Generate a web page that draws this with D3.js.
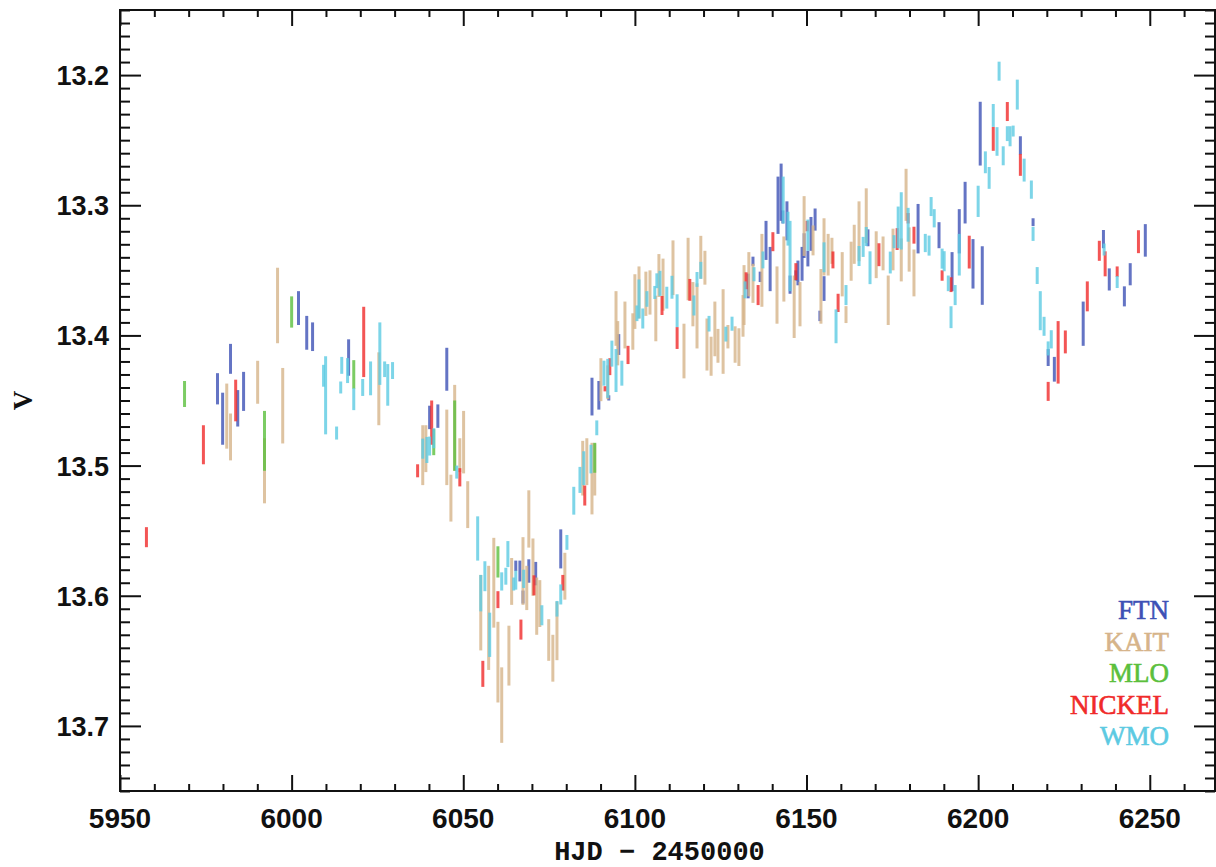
<!DOCTYPE html>
<html>
<head>
<meta charset="utf-8">
<script src="https://cdn.jsdelivr.net/npm/d3@7/dist/d3.min.js"></script>
<style>
  body { margin: 0; background: #fff; }
  svg { display: block; }
</style>
</head>
<body>
<div id="chart"></div>
<script>
// [HJD - 2450000, V, error]
const ftn = [
  [5978.4,13.441,0.012],[5979.9,13.464,0.020],[5982.2,13.418,0.0115],[5984.3,13.456,0.014],
  [5986.0,13.443,0.015],[6002.0,13.379,0.013],[6004.4,13.398,0.013],[6006.1,13.401,0.011],
  [6016.6,13.417,0.014],[6040.2,13.463,0.009],[6042.6,13.462,0.009],[6045.2,13.426,0.0165],
  [6065.3,13.577,0.004],[6066.5,13.581,0.008],[6067.4,13.601,0.005],[6069.1,13.581,0.009],
  [6071.1,13.583,0.009],[6078.4,13.564,0.015],[6087.5,13.447,0.0145],[6089.5,13.446,0.011],
  [6092.4,13.448,0.002],[6095.3,13.407,0.008],[6133.0,13.362,0.0095],[6134.4,13.343,0.0035],
  [6136.5,13.355,0.004],[6138.2,13.327,0.015],[6139.4,13.349,0.017],[6141.7,13.300,0.022],
  [6142.6,13.290,0.022],[6143.1,13.309,0.005],[6144.3,13.312,0.015],[6145.2,13.361,0.007],
  [6146.9,13.354,0.004],[6147.5,13.352,0.0095],[6148.7,13.345,0.013],[6149.3,13.331,0.0095],
  [6150.4,13.341,0.006],[6151.3,13.322,0.013],[6152.5,13.311,0.0085],[6153.9,13.385,0.004],
  [6155.1,13.364,0.0095],[6167.9,13.325,0.0065],[6182.5,13.318,0.019],[6188.6,13.323,0.010],
  [6192.4,13.351,0.015],[6194.5,13.320,0.017],[6196.2,13.298,0.016],[6198.5,13.345,0.019],
  [6200.6,13.245,0.0245],[6201.2,13.354,0.0225],[6212.3,13.254,0.007],[6216.0,13.313,0.003],
  [6220.4,13.417,0.0065],[6222.2,13.426,0.0095],[6230.6,13.391,0.017],[6236.5,13.326,0.007],
  [6238.2,13.357,0.0085],[6242.6,13.370,0.0077],[6244.3,13.353,0.0085],[6248.7,13.327,0.0125]
];
const kait = [
  [5981.1,13.462,0.025],[5982.2,13.478,0.018],[5990.1,13.436,0.0165],[5992.1,13.504,0.025],
  [5995.9,13.377,0.029],[5997.4,13.454,0.029],[6025.4,13.441,0.028],[6038.2,13.492,0.023],
  [6039.1,13.487,0.018],[6045.2,13.486,0.029],[6046.4,13.525,0.018],[6047.5,13.471,0.033],
  [6049.0,13.492,0.013],[6050.1,13.482,0.024],[6051.3,13.530,0.018],[6055.1,13.613,0.029],
  [6057.4,13.617,0.040],[6058.9,13.590,0.0345],[6060.1,13.651,0.031],[6061.2,13.684,0.029],
  [6063.3,13.646,0.023],[6064.1,13.589,0.018],[6067.4,13.581,0.026],[6068.5,13.594,0.017],
  [6069.1,13.541,0.022],[6070.3,13.578,0.022],[6071.4,13.608,0.022],[6072.3,13.606,0.018],
  [6074.9,13.634,0.016],[6076.1,13.648,0.018],[6077.3,13.627,0.0225],[6079.6,13.585,0.018],
  [6084.8,13.502,0.021],[6086.0,13.497,0.018],[6087.5,13.510,0.0275],[6088.3,13.503,0.020],
  [6090.1,13.434,0.0165],[6092.1,13.436,0.013],[6094.5,13.387,0.021],[6095.0,13.406,0.017],
  [6097.1,13.392,0.018],[6099.4,13.397,0.014],[6100.0,13.374,0.021],[6101.2,13.367,0.020],
  [6103.2,13.368,0.017],[6104.4,13.367,0.017],[6106.1,13.387,0.0175],[6107.0,13.354,0.0165],
  [6108.2,13.361,0.020],[6111.1,13.348,0.021],[6114.3,13.412,0.021],[6115.5,13.349,0.024],
  [6116.9,13.376,0.017],[6118.1,13.385,0.025],[6119.2,13.340,0.0165],[6120.4,13.348,0.013],
  [6121.0,13.407,0.020],[6122.2,13.416,0.015],[6123.3,13.395,0.021],[6124.2,13.408,0.013],
  [6125.7,13.397,0.0325],[6127.1,13.401,0.009],[6129.2,13.407,0.014],[6130.3,13.409,0.0145],
  [6131.5,13.385,0.016],[6131.8,13.369,0.023],[6133.2,13.353,0.017],[6134.4,13.360,0.015],
  [6137.0,13.350,0.028],[6141.4,13.369,0.022],[6143.4,13.349,0.025],[6146.4,13.378,0.024],
  [6148.1,13.376,0.017],[6149.3,13.316,0.023],[6151.9,13.327,0.0115],[6154.2,13.370,0.021],
  [6155.1,13.332,0.022],[6156.3,13.338,0.016],[6157.4,13.335,0.010],[6160.4,13.353,0.017],
  [6161.5,13.384,0.0065],[6163.0,13.343,0.015],[6163.9,13.330,0.015],[6165.3,13.320,0.023],
  [6167.4,13.308,0.021],[6170.3,13.338,0.018],[6172.3,13.337,0.013],[6173.8,13.373,0.019],
  [6175.2,13.334,0.016],[6177.6,13.342,0.0165],[6179.0,13.292,0.020],[6179.9,13.334,0.017],
  [6181.3,13.352,0.018]
];
const mlo = [
  [5968.8,13.445,0.010],[5992.1,13.481,0.023],[6000.0,13.382,0.012],[6018.1,13.430,0.011],
  [6041.4,13.482,0.010],[6047.5,13.477,0.027],[6060.1,13.574,0.012],[6088.3,13.494,0.0115]
];
const nickel = [
  [5957.7,13.555,0.0077],[5974.3,13.484,0.015],[5983.7,13.450,0.016],[6021.0,13.405,0.027],
  [6036.7,13.504,0.005],[6040.8,13.467,0.017],[6049.0,13.509,0.007],[6055.7,13.660,0.010],
  [6060.1,13.603,0.0065],[6066.8,13.626,0.0077],[6070.6,13.592,0.0077],[6079.0,13.590,0.006],
  [6085.4,13.523,0.0077],[6091.3,13.441,0.002],[6092.7,13.424,0.0065],[6098.0,13.415,0.007],
  [6107.9,13.377,0.0073],[6112.3,13.402,0.0084],[6116.0,13.365,0.0084],[6132.4,13.358,0.0065],
  [6135.9,13.369,0.0077],[6140.2,13.328,0.0073],[6146.9,13.351,0.0065],[6150.2,13.316,0.004],
  [6157.7,13.342,0.0065],[6159.2,13.375,0.007],[6171.1,13.338,0.0088],[6176.4,13.326,0.0084],
  [6179.6,13.310,0.004],[6181.3,13.323,0.0065],[6189.5,13.354,0.004],[6192.1,13.361,0.0057],
  [6197.4,13.336,0.0126],[6204.4,13.249,0.0092],[6208.5,13.228,0.0073],[6212.3,13.269,0.0084],
  [6220.4,13.443,0.0073],[6223.3,13.413,0.024],[6225.4,13.405,0.0088],[6231.8,13.370,0.0115],
  [6235.3,13.335,0.0077],[6237.0,13.345,0.0096],[6240.5,13.351,0.004],[6246.7,13.328,0.0088]
];
const wmo = [
  [6009.3,13.431,0.0084],[6009.9,13.446,0.030],[6013.1,13.475,0.005],[6014.6,13.423,0.0065],
  [6014.3,13.440,0.0046],[6016.3,13.427,0.0096],[6018.1,13.449,0.0084],[6020.7,13.440,0.0065],
  [6023.0,13.433,0.013],[6025.7,13.414,0.024],[6027.1,13.426,0.006],[6028.0,13.438,0.016],
  [6029.4,13.427,0.0065],[6038.2,13.487,0.0077],[6039.4,13.488,0.010],[6040.2,13.485,0.0073],
  [6041.4,13.479,0.0077],[6048.1,13.505,0.005],[6054.2,13.556,0.017],[6055.1,13.598,0.014],
  [6056.3,13.585,0.0115],[6057.7,13.630,0.017],[6061.2,13.589,0.007],[6062.4,13.585,0.0065],
  [6063.0,13.568,0.010],[6064.7,13.591,0.005],[6065.3,13.588,0.0073],[6067.6,13.587,0.007],
  [6072.9,13.615,0.0077],[6077.3,13.610,0.006],[6078.4,13.599,0.0077],[6080.2,13.559,0.0057],
  [6082.2,13.527,0.0107],[6084.0,13.511,0.010],[6085.1,13.502,0.013],[6087.2,13.495,0.011],
  [6088.9,13.471,0.0057],[6091.0,13.429,0.0096],[6092.1,13.433,0.015],[6093.3,13.414,0.010],
  [6094.5,13.427,0.0165],[6096.2,13.429,0.0096],[6100.6,13.383,0.006],[6101.2,13.372,0.015],
  [6102.3,13.387,0.0077],[6103.5,13.372,0.006],[6105.8,13.367,0.005],[6106.4,13.358,0.0057],
  [6107.3,13.360,0.0096],[6109.3,13.371,0.0084],[6110.8,13.363,0.0088],[6112.3,13.381,0.0126],
  [6117.2,13.377,0.0077],[6118.1,13.357,0.0057],[6119.2,13.350,0.0065],[6121.6,13.391,0.006],
  [6126.5,13.399,0.0057],[6128.3,13.391,0.0054],[6132.1,13.365,0.0065],[6134.7,13.353,0.0054],
  [6137.3,13.342,0.0065],[6143.2,13.296,0.018],[6144.6,13.318,0.013],[6145.2,13.339,0.027],
  [6150.4,13.323,0.012],[6155.1,13.340,0.0115],[6158.6,13.393,0.013],[6161.5,13.369,0.0077],
  [6165.3,13.339,0.0077],[6166.5,13.332,0.0077],[6167.4,13.324,0.0073],[6168.5,13.348,0.0126],
  [6174.4,13.344,0.0084],[6175.5,13.328,0.005],[6176.7,13.317,0.016],[6177.6,13.312,0.022],
  [6179.6,13.315,0.013],[6184.6,13.329,0.007],[6185.7,13.331,0.0077],[6186.3,13.301,0.0073],
  [6187.2,13.310,0.007],[6189.5,13.341,0.0077],[6190.1,13.343,0.0077],[6191.3,13.360,0.006],
  [6192.1,13.386,0.0084],[6193.3,13.369,0.0077],[6194.5,13.338,0.016],[6200.0,13.297,0.012],
  [6202.1,13.267,0.0084],[6203.2,13.279,0.0084],[6204.4,13.231,0.0088],[6205.5,13.251,0.011],
  [6206.1,13.197,0.0073],[6207.3,13.262,0.0073],[6208.5,13.245,0.0057],[6209.3,13.247,0.0077],
  [6210.2,13.243,0.0042],[6211.4,13.215,0.0115],[6213.4,13.273,0.0088],[6215.5,13.288,0.007],
  [6216.0,13.322,0.0054],[6217.2,13.354,0.0065],[6218.1,13.381,0.015],[6219.2,13.393,0.0073],
  [6220.4,13.410,0.0054],[6221.3,13.403,0.007],[6236.7,13.334,0.0046],[6240.5,13.359,0.0046]
];

const instruments = ["FTN", "KAIT", "MLO", "NICKEL", "WMO"];
const colors = ["#3d51b5", "#d6b48a", "#5bbf3d", "#f02a2a", "#5ccae2"];
const seriesData = [ftn, kait, mlo, nickel, wmo];

const xMajor = [5950, 6000, 6050, 6100, 6150, 6200, 6250];
const yMajor = [13.2, 13.3, 13.4, 13.5, 13.6, 13.7];

const width = 1216, height = 867;
const margin = { left: 120, right: 1215, top: 10, bottom: 791 };

const svg = d3.select("#chart").append("svg")
  .attr("width", width)
  .attr("height", height);

const x = d3.scaleLinear().domain([5950, 6269]).range([margin.left, margin.right]);
const y = d3.scaleLinear().domain([13.15, 13.75]).range([margin.top, margin.bottom]);

// error bars
seriesData.forEach(function (data, i) {
  svg.append("g")
    .selectAll("line")
    .data(data)
    .enter()
    .append("line")
    .attr("x1", d => x(d[0]))
    .attr("x2", d => x(d[0]))
    .attr("y1", d => y(d[1] - d[2]))
    .attr("y2", d => y(d[1] + d[2]))
    .attr("stroke", colors[i])
    .attr("stroke-width", 3)
    .attr("stroke-opacity", 0.8);
});

// axes: ticks inward on all four sides
const xMinor = d3.range(5960, 6270, 10).filter(v => v % 50 !== 0);
const yMinor = d3.range(0, 61).map(i => +(13.15 + i * 0.01).toFixed(2))
  .filter(v => Math.abs(v * 10 - Math.round(v * 10)) > 1e-6);

function styleAxis(g) {
  g.select(".domain").remove();
  g.selectAll("line").attr("stroke", "#111").attr("stroke-width", 2);
}

function addAxis(axis, tx, ty) {
  svg.append("g").attr("transform", `translate(${tx},${ty})`).call(axis).call(styleAxis);
}

addAxis(d3.axisTop(x).tickValues(xMajor).tickSize(16).tickFormat(""), 0, margin.bottom);
addAxis(d3.axisTop(x).tickValues(xMinor).tickSize(7).tickFormat(""), 0, margin.bottom);
addAxis(d3.axisBottom(x).tickValues(xMajor).tickSize(16).tickFormat(""), 0, margin.top);
addAxis(d3.axisBottom(x).tickValues(xMinor).tickSize(7).tickFormat(""), 0, margin.top);
addAxis(d3.axisRight(y).tickValues(yMajor).tickSize(21).tickFormat(""), margin.left, 0);
addAxis(d3.axisRight(y).tickValues(yMinor).tickSize(10).tickFormat(""), margin.left, 0);
addAxis(d3.axisLeft(y).tickValues(yMajor).tickSize(21).tickFormat(""), margin.right, 0);
addAxis(d3.axisLeft(y).tickValues(yMinor).tickSize(10).tickFormat(""), margin.right, 0);

svg.append("rect")
  .attr("x", margin.left).attr("y", margin.top)
  .attr("width", margin.right - margin.left).attr("height", margin.bottom - margin.top)
  .attr("fill", "none").attr("stroke", "#111").attr("stroke-width", 2);

// tick labels
svg.append("g").selectAll("text")
  .data(xMajor).enter().append("text")
  .attr("x", d => x(d)).attr("y", 828)
  .attr("text-anchor", "middle")
  .attr("font-family", "Liberation Sans, Arial, sans-serif")
  .attr("font-weight", "bold").attr("font-size", 28)
  .attr("fill", "#111")
  .text(d => d);

svg.append("g").selectAll("text")
  .data(yMajor).enter().append("text")
  .attr("x", 109).attr("y", d => y(d) + 10)
  .attr("text-anchor", "end")
  .attr("font-family", "Liberation Sans, Arial, sans-serif")
  .attr("font-weight", "bold").attr("font-size", 27)
  .attr("fill", "#111")
  .text(d => d.toFixed(1));

// axis titles
svg.append("text")
  .attr("x", (margin.left + margin.right) / 2 - 8).attr("y", 860)
  .attr("text-anchor", "middle")
  .attr("font-family", "Liberation Mono, monospace")
  .attr("font-weight", "bold").attr("font-size", 27)
  .attr("fill", "#111")
  .text("HJD − 2450000");

svg.append("text")
  .attr("transform", `translate(32,${(margin.top + margin.bottom) / 2}) rotate(-90)`)
  .attr("text-anchor", "middle")
  .attr("font-family", "Liberation Serif, serif")
  .attr("font-weight", "bold").attr("font-size", 27)
  .attr("fill", "#111")
  .text("V");

// legend
svg.append("g").selectAll("text")
  .data(instruments).enter().append("text")
  .attr("x", 1169).attr("y", (d, i) => 619 + i * 31.5)
  .attr("text-anchor", "end")
  .attr("font-family", "Liberation Serif, serif")
  .attr("font-size", 27)
  .attr("fill", (d, i) => colors[i])
  .attr("stroke", (d, i) => colors[i])
  .attr("stroke-width", 0.6)
  .text(d => d);
</script>
</body>
</html>
